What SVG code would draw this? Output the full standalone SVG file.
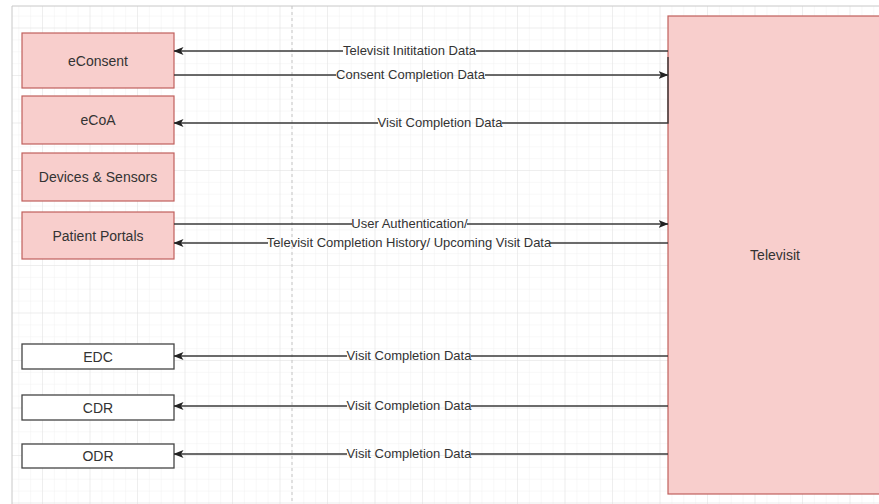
<svg xmlns="http://www.w3.org/2000/svg" width="879" height="504" viewBox="0 0 879 504">
<style>
  .red { fill: #f8cecc; stroke: #c0605c; stroke-width: 1.2; }
  .white { fill: #ffffff; stroke: #444444; stroke-width: 1.3; }
  .ntext { font-family: "Liberation Sans", Arial, sans-serif; font-size: 14px; fill: #333333; text-anchor: middle; dominant-baseline: central; }
  .elabel { font-family: "Liberation Sans", Arial, sans-serif; font-size: 13px; fill: #333333; text-anchor: middle; dominant-baseline: central; }
  .edge { stroke: #3a3a3a; stroke-width: 1.4; fill: none; }
</style>
<defs>
  <pattern id="minor" x="42" y="27.5" width="11.875" height="11.875" patternUnits="userSpaceOnUse">
    <path d="M0,0 H11.875 M0,0 V11.875" stroke="#f1f1f1" stroke-width="1" fill="none"/>
  </pattern>
  <pattern id="major" x="42" y="27.5" width="47.5" height="47.5" patternUnits="userSpaceOnUse">
    <path d="M0,0 H47.5 M0,0 V47.5" stroke="#e3e3e3" stroke-width="1" fill="none"/>
  </pattern>
  <marker id="arr" viewBox="0 0 10 8" refX="9.5" refY="4" markerWidth="10" markerHeight="8" markerUnits="userSpaceOnUse" orient="auto">
    <path d="M0,0 L10,4 L0,8 L2.5,4 Z" fill="#222222"/>
  </marker>
</defs>
<rect x="0" y="0" width="879" height="504" fill="#ffffff"/>
<g id="canvas">
  <rect x="12" y="6" width="867" height="498" fill="url(#minor)"/>
  <rect x="12" y="6" width="867" height="498" fill="url(#major)"/>
  <path d="M12,504 V6 H879" stroke="#c8c8c8" stroke-width="1" fill="none"/>
  <line x1="292" y1="6" x2="292" y2="504" stroke="#c4c4c4" stroke-width="1" stroke-dasharray="3,3"/>
</g>
<g id="televisit">
  <rect class="red" x="668" y="16" width="216" height="478"/>
  <text class="ntext" x="775" y="255">Televisit</text>
</g>
<g id="econsent">
  <rect class="red" x="22" y="33" width="152" height="55"/>
  <text class="ntext" x="98" y="61">eConsent</text>
</g>
<g id="ecoa">
  <rect class="red" x="22" y="96" width="152" height="48"/>
  <text class="ntext" x="98" y="120">eCoA</text>
</g>
<g id="devices">
  <rect class="red" x="22" y="153" width="152" height="48"/>
  <text class="ntext" x="98" y="177">Devices &amp; Sensors</text>
</g>
<g id="portals">
  <rect class="red" x="22" y="212" width="152" height="47"/>
  <text class="ntext" x="98" y="235.5">Patient Portals</text>
</g>
<g id="edc">
  <rect class="white" x="22" y="344" width="152" height="25"/>
  <text class="ntext" x="98" y="356.5">EDC</text>
</g>
<g id="cdr">
  <rect class="white" x="22" y="395" width="152" height="25"/>
  <text class="ntext" x="98" y="407.5">CDR</text>
</g>
<g id="odr">
  <rect class="white" x="22" y="444" width="152" height="24"/>
  <text class="ntext" x="98" y="456">ODR</text>
</g>
<g id="connectors">
  <!-- Televisit Initiation Data -->
  <line class="edge" x1="668" y1="51" x2="476" y2="51"/>
  <line class="edge" x1="343" y1="51" x2="174" y2="51" marker-end="url(#arr)"/>
  <text class="elabel" x="409.5" y="50">Televisit Inititation Data</text>
  <!-- Consent Completion Data -->
  <line class="edge" x1="174" y1="75" x2="336" y2="75"/>
  <line class="edge" x1="485" y1="75" x2="668" y2="75" marker-end="url(#arr)"/>
  <text class="elabel" x="410.5" y="74">Consent Completion Data</text>
  <!-- eCoA Visit Completion Data -->
  <path class="edge" d="M668,57 V123 H502"/>
  <line class="edge" x1="378" y1="123" x2="174" y2="123" marker-end="url(#arr)"/>
  <text class="elabel" x="440" y="122">Visit Completion Data</text>
  <!-- User Authentication -->
  <line class="edge" x1="174" y1="224" x2="352" y2="224"/>
  <line class="edge" x1="467" y1="224" x2="668" y2="224" marker-end="url(#arr)"/>
  <text class="elabel" x="409.5" y="223">User Authentication/</text>
  <!-- Televisit Completion History -->
  <line class="edge" x1="668" y1="243" x2="550" y2="243"/>
  <line class="edge" x1="268" y1="243" x2="174" y2="243" marker-end="url(#arr)"/>
  <text class="elabel" x="409" y="242">Televisit Completion History/ Upcoming Visit Data</text>
  <!-- EDC -->
  <line class="edge" x1="668" y1="356" x2="471" y2="356"/>
  <line class="edge" x1="347" y1="356" x2="174" y2="356" marker-end="url(#arr)"/>
  <text class="elabel" x="409" y="355">Visit Completion Data</text>
  <!-- CDR -->
  <line class="edge" x1="668" y1="406" x2="471" y2="406"/>
  <line class="edge" x1="347" y1="406" x2="174" y2="406" marker-end="url(#arr)"/>
  <text class="elabel" x="409" y="405">Visit Completion Data</text>
  <!-- ODR -->
  <line class="edge" x1="668" y1="454" x2="471" y2="454"/>
  <line class="edge" x1="347" y1="454" x2="174" y2="454" marker-end="url(#arr)"/>
  <text class="elabel" x="409" y="453">Visit Completion Data</text>
</g>
</svg>
